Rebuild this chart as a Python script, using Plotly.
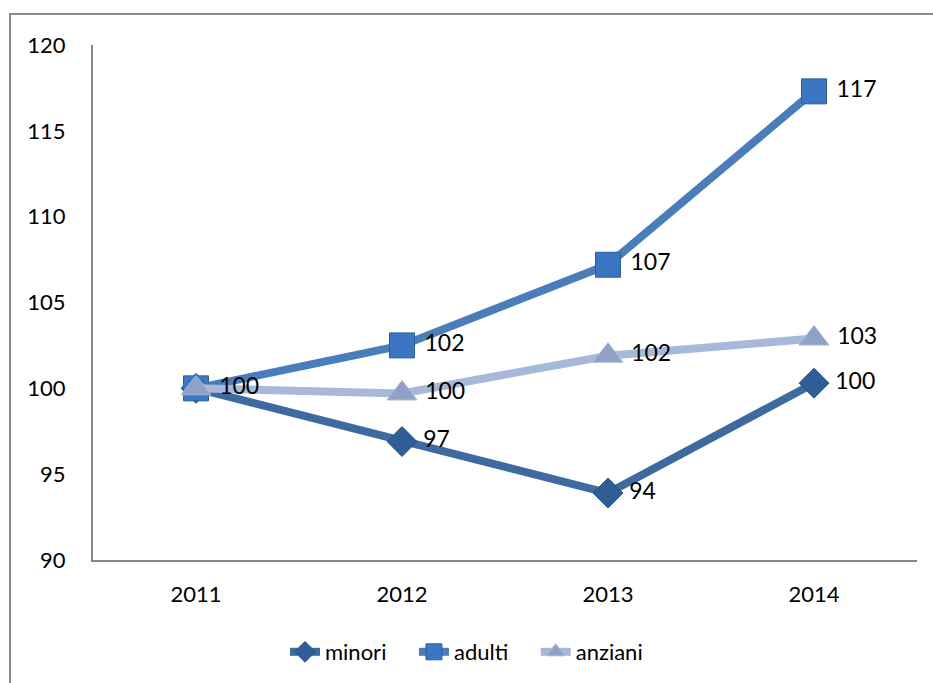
import plotly.graph_objects as go

years = ["2011", "2012", "2013", "2014"]
minori = [100.0, 96.9, 93.9, 100.3]
adulti = [100.0, 102.5, 107.2, 117.3]
anziani = [100.0, 99.7, 101.9, 102.9]
y_ticks = [90, 95, 100, 105, 110, 115, 120]

FONT = "Lato"
PAD = "\u00a0"
GAP = "\u00a0" * 4

series = [
    ("minori", minori, "#3D6A9F", "diamond", "#2F5D96", "#2A5488", 23, False),
    ("adulti", adulti, "#4A7EBB", "square", "#3A76C3", "#2F5F9A", 25, False),
    ("anziani", anziani, "#A6B9D8", "triangle-up", "#8FA1C7", "#A9B6D2", 26, True),
]

fig = go.Figure()
for i, (name, vals, lc, sym, mc, mlc, ms, first_label) in enumerate(series):
    labels = [PAD + str(round(v)) for v in vals]
    if not first_label:
        labels[0] = ""  # identical overlapping "100" labels at 2011 shown once
    fig.add_trace(go.Scatter(
        x=years, y=vals, name=name + (GAP if i < 2 else ""),
        mode="lines+markers+text",
        line=dict(color=lc, width=8),
        marker=dict(symbol=sym, size=ms, color=mc, line=dict(color=mlc, width=1)),
        text=labels,
        textposition="middle right",
        textfont=dict(family=FONT, size=23, color="#000000"),
        cliponaxis=False,
    ))

fig.update_layout(
    width=933, height=683,
    margin=dict(l=93, r=16, t=45, b=123, autoexpand=False),
    paper_bgcolor="white", plot_bgcolor="white",
    font=dict(family=FONT, size=22, color="#000000"),
    showlegend=True,
    legend=dict(orientation="h", x=0.5, xanchor="center", xref="container",
                y=(683 - 652) / 683, yanchor="middle", yref="container",
                font=dict(family=FONT, size=22),
                traceorder="normal", tracegroupgap=0),
    xaxis=dict(type="category", range=[-0.5, 3.5], showline=True,
               linecolor="#878787", linewidth=2, showgrid=False, ticks="",
               ticklabelstandoff=14, zeroline=False),
    yaxis=dict(range=[90, 120], tickvals=y_ticks, showline=True,
               linecolor="#878787", linewidth=2, showgrid=False, ticks="",
               ticklabelstandoff=21, zeroline=False),
    shapes=[dict(type="rect", xref="paper", yref="paper",
                 x0=(10 - 93) / 824, x1=(940 - 93) / 824,
                 y0=(560 - 700) / 515, y1=(560 - 14) / 515,
                 line=dict(color="#8C8C8C", width=2), layer="below")],
)

fig.write_html("out.html", config={"displayModeBar": False},
               post_script="document.body.style.margin='0';document.body.style.overflow='hidden';")
